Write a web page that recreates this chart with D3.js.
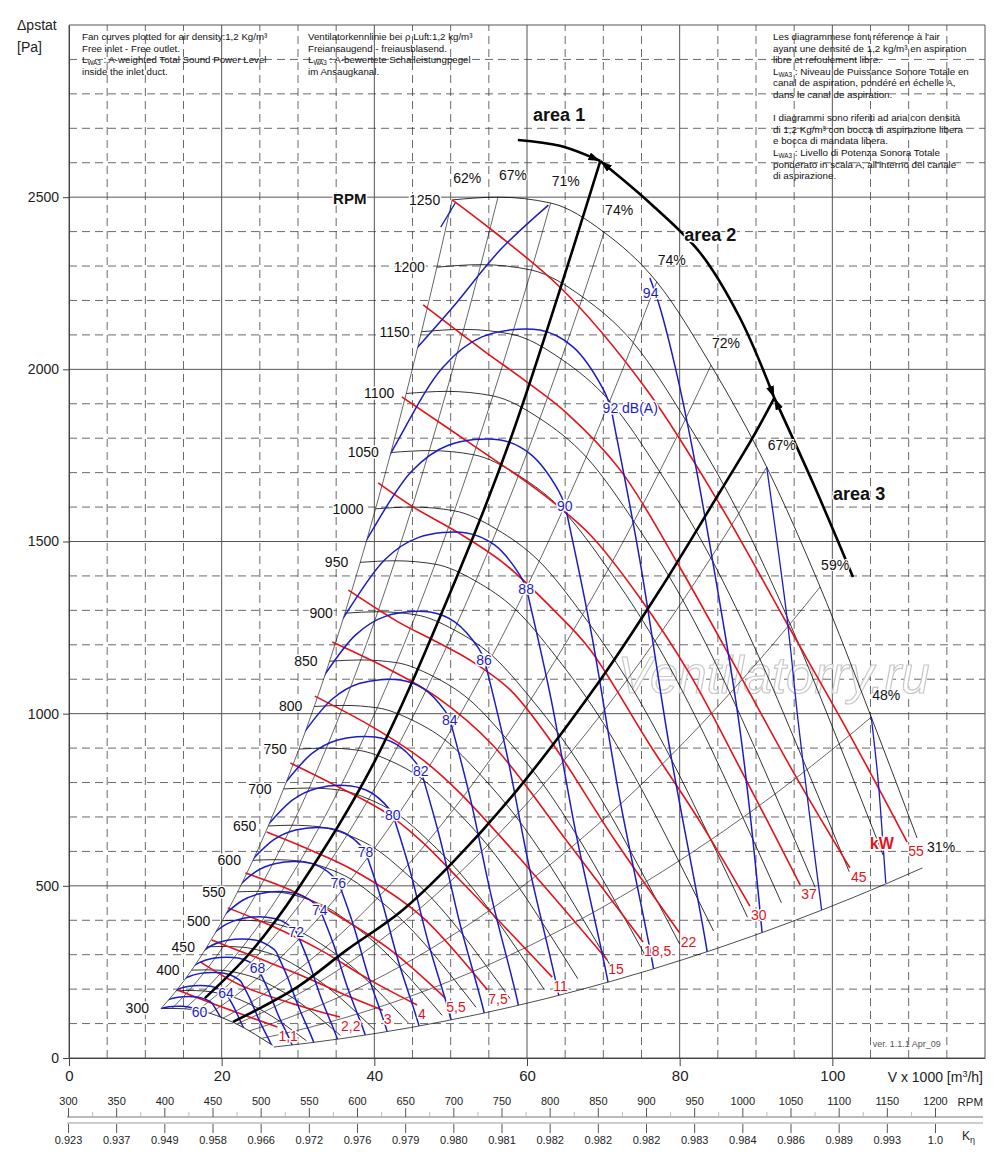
<!DOCTYPE html>
<html>
<head>
<meta charset="utf-8">
<script src="https://cdn.jsdelivr.net/npm/d3@7/dist/d3.min.js"></script>
<style>
  body { margin: 0; background: #fff; }
  svg { display: block; font-family: "Liberation Sans", Arial, sans-serif; }
</style>
</head>
<body>
<svg id="chart" width="1000" height="1160"></svg>
<script>
// fan speeds of the characteristic curves
const rpmValues = [300, 350, 400, 450, 500, 550, 600, 650, 700, 750, 800, 850, 900, 950, 1000, 1050, 1100, 1150, 1200, 1250];
const labelledRpm = [300, 400, 450, 500, 550, 600, 650, 700, 750, 800, 850, 900, 950, 1000, 1050, 1100, 1150, 1200, 1250];

// characteristic at 1250 rpm (V x 1000 m3/h, Pa), points where efficiency is marked
const topQ = [50.2, 56.2, 63.1, 70.1, 77.0, 84.1, 91.4, 98.4, 105.1, 111.1];
const topP = [2492, 2500, 2483, 2398, 2254, 2012, 1716, 1368, 990, 639];
const efficiency = ["62%", "67%", "71%", "74%", "74%", "72%", "67%", "59%", "48%", "31%"];
// end of the working range at 1250 rpm
const edgePoint = [111.8, 552];

// speed / correction scale under the chart
const scaleRpm = [300, 350, 400, 450, 500, 550, 600, 650, 700, 750, 800, 850, 900, 950, 1000, 1050, 1100, 1150, 1200];
const kEta = ["0.923", "0.937", "0.949", "0.958", "0.966", "0.972", "0.976", "0.979", "0.980", "0.981",
              "0.982", "0.982", "0.982", "0.983", "0.984", "0.986", "0.989", "0.993", "1.0"];

// absorbed power lines, kW
const powerLabels = ["1,1", "2,2", "3", "4", "5,5", "7,5", "11", "15", "18,5", "22", "30", "37", "45", "55"];
const powerLines = [
  [[14.3, 197], [20.4, 145], [27.3, 90]],
  [[17.2, 279], [22.4, 212], [29.0, 160], [35.5, 119]],
  [[18.7, 343], [24.4, 293], [30.3, 241], [36.2, 183], [41.1, 139]],
  [[20.8, 436], [26.3, 386], [32.9, 314], [39.4, 227], [45.6, 154]],
  [[23.1, 537], [29.0, 488], [34.6, 421], [42.1, 314], [49.3, 174]],
  [[25.9, 656], [31.6, 604], [37.2, 546], [46.0, 415], [54.8, 198]],
  [[29.0, 857], [34.8, 793], [41.4, 714], [46.0, 633], [51.2, 517], [63.3, 235]],
  [[32.2, 1051], [39.8, 961], [46.4, 865], [51.2, 770], [60.4, 546], [70.5, 285]],
  [[34.5, 1208], [42.1, 1127], [48.2, 1048], [55.5, 909], [65.6, 619], [75.2, 337]],
  [[36.6, 1359], [43.4, 1263], [47.7, 1214], [52.5, 1156], [57.8, 1069], [63.0, 924], [71.5, 633], [80.0, 363]],
  [[40.5, 1670], [45.1, 1600], [50.8, 1528], [56.9, 1438], [63.9, 1292], [68.3, 1185], [76.1, 909], [82.7, 685], [89.2, 441]],
  [[43.6, 1920], [52.9, 1780], [61.7, 1644], [68.3, 1519], [74.8, 1336], [81.4, 1112], [87.9, 842], [95.8, 502]],
  [[46.4, 2187], [54.2, 2056], [60.0, 1963], [65.2, 1873], [72.2, 1708], [80.0, 1426], [87.9, 1112], [95.1, 822], [102.3, 552]],
  [[50.2, 2492], [64.3, 2239], [75.7, 1940], [85.3, 1606], [93.8, 1272], [102.3, 938], [109.8, 627]]
];

// sound power contours LwA3, dB(A): top point of each contour
const soundLevels = [60, 62, 64, 66, 68, 70, 72, 74, 76, 78, 80, 82, 84, 86, 88, 90, 92];
const soundLabels = ["60", "", "64", "", "68", "", "72", "74", "76", "78", "80", "82", "84", "86", "88", "90", "92 dB(A)"];
const soundPeakQ = [14.9, 16.3, 17.9, 19.6, 21.5, 23.6, 25.9, 28.6, 30.7, 33.8, 36.9, 40.1, 43.4, 47.3, 52.1, 56.5, 61.7];
const soundPeakP = [150, 178, 210, 248, 292, 345, 409, 482, 569, 668, 790, 932, 1098, 1295, 1525, 1795, 2114];
// contour outline relative to its top point (read from the 92 dB(A) line)
const soundShape = [[0.607, 0.749], [0.677, 0.824], [0.794, 0.949], [0.878, 0.991], [1, 1], [1.070, 0.977],
                    [1.135, 0.918], [1.150, 0.893], [1.160, 0.862], [1.212, 0.684], [1.276, 0.423], [1.355, 0.146], [1.375, 0.05]];
const soundLabelAt = 7;
// 94 dB(A) is cut by the 1250 rpm curve
const sound94Left = [[45.1, 2050], [50.3, 2181], [56.5, 2347], [62.8, 2477]];
const sound94Right = [[76.1, 2265], [77.4, 2181], [79.6, 1989], [81.7, 1766], [84.9, 1368], [87.9, 953], [90.8, 363], [91.2, 250]];
const sound94Label = [76.2, 2222];
const soundExtra = [
  [[91.4, 1716], [94.1, 1272], [95.5, 982], [97.1, 691], [98.6, 430]],
  [[105.1, 990], [106.0, 807], [106.6, 633], [107.0, 508]],
  [[48.7, 2413], [50.6, 2483]]
];

// area boundaries
const area12 = [[17.8, 174], [23.7, 305], [29.9, 488], [39.8, 851], [50.8, 1397], [57.8, 1795], [64.3, 2230], [69.6, 2605]];
const area23 = [[21.5, 105], [29.9, 206], [36.4, 314], [43.4, 424], [50.3, 569], [58.7, 778], [69.6, 1098],
                [77.4, 1359], [84.4, 1612], [89.6, 1803], [92.4, 1917]];
const arcPart1 = [[58.8, 2666], [64.3, 2649], [69.6, 2605]];
const arcPart2 = [[69.6, 2605], [76.1, 2483], [82.7, 2338], [87.9, 2149], [92.4, 1917]];
const arcPart3 = [[92.4, 1917], [97.7, 1658], [102.7, 1397]];

const annotations = [
  { text: "area 1", q: 60.8, p: 2721, size: 18 },
  { text: "area 2", q: 80.6, p: 2373, size: 18 },
  { text: "area 3", q: 100.1, p: 1620, size: 18 }
];

const textEn = ["Fan curves plotted for air density:1,2 Kg/m³", "Free inlet - Free outlet.",
  "L{WA3} : A-weighted Total Sound Power Level", "inside the inlet duct."];
const textDe = ["Ventilatorkennlinie bei ρ Luft:1,2 kg/m³", "Freiansaugend - freiausblasend.",
  "L{WA3} : A-bewertete Schalleistungpegel", "im Ansaugkanal."];
const textFrIt = ["Les diagrammese font réference à l'air", "ayant une densité de 1,2 kg/m³ en aspiration",
  "libre et refoulement libre.", "L{WA3} : Niveau de Puissance Sonore Totale en",
  "canal de aspiration, pondéré en échelle A,", "dans le canal de aspiration.", "",
  "I diagrammi sono riferiti ad aria con densità", "di 1,2 Kg/m³ con bocca di aspirazione libera",
  "e bocca di mandata libera.", "L{WA3} : Livello di Potenza Sonora Totale",
  "ponderato in scala A, all'interno del canale", "di aspirazione."];

const RED = "#e3131b", BLUE = "#1c1cc4";

const svg = d3.select("#chart");
const x = d3.scaleLinear().domain([0, 120]).range([69, 985]);
const y = d3.scaleLinear().domain([0, 3000]).range([1058, 25]);
const lin = d3.line().x(d => x(d[0])).y(d => y(d[1]));
const mono = d3.line().x(d => x(d[0])).y(d => y(d[1])).curve(d3.curveMonotoneX);
const smooth = d3.line().x(d => x(d[0])).y(d => y(d[1])).curve(d3.curveCatmullRom.alpha(0.5));

const topCurve = topQ.map((q, i) => [q, topP[i]]);
function atRpm(pt, rpm) {
  const k = rpm / 1250;
  return [pt[0] * k, pt[1] * k * k];
}

// ---- grid
const grid = svg.append("g");
x.ticks(24).forEach(v => {
  const major = v % 20 === 0;
  grid.append("line").attr("x1", x(v)).attr("x2", x(v)).attr("y1", y(0)).attr("y2", y(3000))
    .attr("stroke", major ? "#555" : "#444").attr("stroke-width", major ? 1 : 0.8)
    .attr("stroke-dasharray", major ? null : "8,5");
});
y.ticks(30).forEach(v => {
  const major = v % 500 === 0;
  grid.append("line").attr("x1", x(0)).attr("x2", x(120)).attr("y1", y(v)).attr("y2", y(v))
    .attr("stroke", major ? "#555" : "#444").attr("stroke-width", major ? 1 : 0.8)
    .attr("stroke-dasharray", major ? null : "8,5");
});

// ---- axes
const xAxis = svg.append("g").attr("transform", `translate(0,${y(0)})`)
  .call(d3.axisBottom(x).tickValues([0, 20, 40, 60, 80, 100]).tickFormat(d3.format("d"))
    .tickSize(8).tickSizeOuter(0).tickPadding(4));
const yAxis = svg.append("g").attr("transform", `translate(${x(0)},0)`)
  .call(d3.axisLeft(y).tickValues([0, 500, 1000, 1500, 2000, 2500]).tickFormat(d3.format("d"))
    .tickSize(6).tickSizeOuter(0).tickPadding(4));
[xAxis, yAxis].forEach(a => {
  a.attr("font-family", null).attr("font-size", null);
  a.selectAll("text").attr("font-size", 14).attr("fill", "#222");
  a.selectAll("line,path").attr("stroke", "#444");
});
xAxis.selectAll("text").attr("font-size", 15);

svg.append("text").attr("x", 17).attr("y", 30).attr("font-size", 14).attr("fill", "#222").text("Δpstat");
svg.append("text").attr("x", 17).attr("y", 52).attr("font-size", 14).attr("fill", "#222").text("[Pa]");
const vt = svg.append("text").attr("x", 983).attr("y", 1082).attr("text-anchor", "end").attr("font-size", 14).attr("fill", "#222");
vt.append("tspan").text("V x 1000 [m");
vt.append("tspan").attr("font-size", 9).attr("dy", -5).text("3");
vt.append("tspan").attr("dy", 5).text("/h]");

// ---- note blocks
function noteBlock(lines, x0, y0, size) {
  lines.forEach((ln, i) => {
    if (!ln) return;
    const t = svg.append("text").attr("x", x0).attr("y", y0 + i * 11.6).attr("font-size", size).attr("fill", "#111");
    ln.split(/\{([^}]*)\}/).forEach((part, j) => {
      if (!part) return;
      if (j % 2 === 1) {
        t.append("tspan").attr("font-size", size * 0.65).attr("dy", 2).text(part);
      } else {
        t.append("tspan").attr("dy", j > 0 ? -2 : 0).text(part);
      }
    });
  });
}
noteBlock(textEn, 82, 40, 9.7);
noteBlock(textDe, 308, 40, 9.7);
noteBlock(textFrIt, 773, 40, 9.8);

// ---- watermark
svg.append("text").attr("x", x(71.9)).attr("y", y(1060)).attr("font-size", 51).attr("font-style", "italic")
  .attr("fill", "#fff").attr("stroke", "#c8c8c8").attr("stroke-width", 1.2).text("Ventilatorry.ru");

// ---- clip region of the fan field
const leftEdge = rpmValues.map(r => atRpm(topCurve[0], r));
const bottomEdge = rpmValues.map(r => atRpm(edgePoint, r)).reverse();
const lowEdge = topCurve.map(p => atRpm(p, 300)).reverse();
const clipD = lin(leftEdge) + mono(topCurve).replace(/^M/, "L") + lin(bottomEdge).replace(/^M/, "L")
  + lin(lowEdge).replace(/^M/, "L") + "Z";
const defs = svg.append("defs");
defs.append("clipPath").attr("id", "fanField").append("path").attr("d", clipD);
defs.append("marker").attr("id", "arrowHead").attr("viewBox", "0 0 12 8").attr("refX", 12).attr("refY", 4)
  .attr("markerWidth", 12).attr("markerHeight", 8).attr("markerUnits", "userSpaceOnUse")
  .attr("orient", "auto-start-reverse")
  .append("path").attr("d", "M0,0L12,4L0,8Z").attr("fill", "#000");

// ---- rpm curves and system lines
const curves = svg.append("g").attr("fill", "none").attr("stroke", "#000");
rpmValues.forEach(r => {
  curves.append("path").attr("d", mono(topCurve.map(p => atRpm(p, r)))).attr("stroke-width", 0.8);
});
topCurve.slice(0, -1).forEach(pt => {
  curves.append("path").attr("d", mono(rpmValues.map(r => atRpm(pt, r)))).attr("stroke-width", 0.6);
});
curves.append("path").attr("d", mono(rpmValues.map(r => atRpm(edgePoint, r)))).attr("stroke-width", 0.7);

// ---- power lines
const power = svg.append("g").attr("fill", "none").attr("stroke", RED).attr("stroke-width", 1.6);
powerLines.forEach(pl => power.append("path").attr("d", smooth(pl)));

// ---- sound contours
const sound = svg.append("g").attr("fill", "none").attr("stroke", BLUE).attr("stroke-width", 1.5)
  .attr("clip-path", "url(#fanField)");
const soundLabelPos = [];
soundLevels.forEach((lv, i) => {
  const pts = soundShape.map(s => [s[0] * soundPeakQ[i], s[1] * soundPeakP[i]]);
  sound.append("path").attr("d", smooth(pts));
  soundLabelPos.push(pts[soundLabelAt]);
});
sound.append("path").attr("d", smooth(sound94Left));
sound.append("path").attr("d", smooth(sound94Right));
const soundFree = svg.append("g").attr("fill", "none").attr("stroke", BLUE).attr("stroke-width", 1.3);
soundExtra.forEach(s => soundFree.append("path").attr("d", smooth(s)));

// ---- area boundaries
const areas = svg.append("g").attr("fill", "none").attr("stroke", "#000").attr("stroke-width", 2.6);
areas.append("path").attr("d", smooth(area12));
areas.append("path").attr("d", smooth(area23));
areas.append("path").attr("d", smooth(arcPart1)).attr("marker-end", "url(#arrowHead)");
areas.append("path").attr("d", smooth(arcPart2)).attr("marker-start", "url(#arrowHead)").attr("marker-end", "url(#arrowHead)");
areas.append("path").attr("d", smooth(arcPart3)).attr("marker-start", "url(#arrowHead)");

// ---- labels
function halo(t, w) {
  return t.attr("stroke", "#fff").attr("stroke-width", w || 3).attr("paint-order", "stroke").attr("stroke-linejoin", "round");
}
labelledRpm.forEach(r => {
  const s = atRpm(topCurve[0], r);
  halo(svg.append("text").attr("x", x(s[0]) - 12).attr("y", y(s[1])).attr("dy", "0.35em")
    .attr("text-anchor", "end").attr("font-size", 14).attr("fill", "#111").text(r));
});
halo(svg.append("text").attr("x", x(34.6)).attr("y", y(2495)).attr("dy", "0.35em")
  .attr("font-size", 15).attr("font-weight", "bold").attr("fill", "#111").text("RPM"));

topCurve.forEach((pt, i) => {
  const off = i === topCurve.length - 1 ? [10, 14] : [1, -17];
  halo(svg.append("text").attr("x", x(pt[0]) + off[0]).attr("y", y(pt[1]) + off[1])
    .attr("font-size", 14).attr("fill", "#111").text(efficiency[i]), 2);
});

powerLines.forEach((pl, i) => {
  const e = pl[pl.length - 1];
  halo(svg.append("text").attr("x", x(e[0]) + 1).attr("y", y(e[1]) + 9).attr("dy", "0.35em")
    .attr("font-size", 14).attr("fill", RED).text(powerLabels[i]));
});
halo(svg.append("text").attr("x", x(104.9)).attr("y", y(624)).attr("dy", "0.35em")
  .attr("font-size", 16).attr("font-weight", "bold").attr("fill", RED).text("kW"));

soundLevels.forEach((lv, i) => {
  if (!soundLabels[i]) return;
  const p = soundLabelPos[i];
  halo(svg.append("text").attr("x", x(p[0]) - 8).attr("y", y(p[1])).attr("dy", "0.35em")
    .attr("font-size", 14).attr("fill", BLUE).text(soundLabels[i]));
});
halo(svg.append("text").attr("x", x(sound94Label[0])).attr("y", y(sound94Label[1])).attr("dy", "0.35em")
  .attr("text-anchor", "middle").attr("font-size", 14).attr("fill", BLUE).text("94"));

annotations.forEach(a => {
  halo(svg.append("text").attr("x", x(a.q)).attr("y", y(a.p)).attr("font-size", a.size)
    .attr("font-weight", "bold").attr("fill", "#111").text(a.text));
});

svg.append("text").attr("x", x(105.3)).attr("y", y(32)).attr("font-size", 9).attr("fill", "#555").text("ver. 1.1.1 Apr_09");

// ---- rpm / K-eta scale
const rpmX = d3.scaleLinear().domain([300, 1200]).range([68, 935]);
const narrow = "'Liberation Sans Narrow', 'Arial Narrow', 'Liberation Sans', sans-serif";
svg.append("line").attr("x1", 67).attr("x2", 983).attr("y1", 1117).attr("y2", 1117).attr("stroke", "#777");
svg.append("line").attr("x1", 67).attr("x2", 983).attr("y1", 1123).attr("y2", 1123).attr("stroke", "#bbb").attr("stroke-width", 1.5);
const minorG = svg.append("g").attr("transform", "translate(0,1117)")
  .call(d3.axisTop(rpmX).tickValues(scaleRpm.slice(0, -1).map(v => v + 25)).tickSize(5).tickFormat(""));
minorG.select(".domain").remove();
minorG.selectAll("line").attr("stroke", "#bbb");
const rpmG = svg.append("g").attr("transform", "translate(0,1117)")
  .call(d3.axisTop(rpmX).tickValues(scaleRpm).tickFormat(d3.format("d")).tickSize(9).tickPadding(3));
const kG = svg.append("g").attr("transform", "translate(0,1124)")
  .call(d3.axisBottom(rpmX).tickValues(scaleRpm).tickFormat((d, i) => kEta[i]).tickSize(9).tickPadding(3));
[rpmG, kG].forEach(a => {
  a.select(".domain").remove();
  a.attr("font-family", null).attr("font-size", null);
  a.selectAll("text").attr("font-family", narrow).attr("font-size", 11).attr("fill", "#222");
  a.selectAll("line").attr("stroke", "#555");
});
svg.append("text").attr("x", 983).attr("y", 1106).attr("text-anchor", "end").attr("font-family", narrow)
  .attr("font-size", 11.5).attr("fill", "#222").text("RPM");
const ke = svg.append("text").attr("x", 962).attr("y", 1140).attr("font-family", narrow).attr("font-size", 12).attr("fill", "#222");
ke.append("tspan").text("K");
ke.append("tspan").attr("font-size", 9).attr("dy", 3).text("η");
</script>
</body>
</html>
